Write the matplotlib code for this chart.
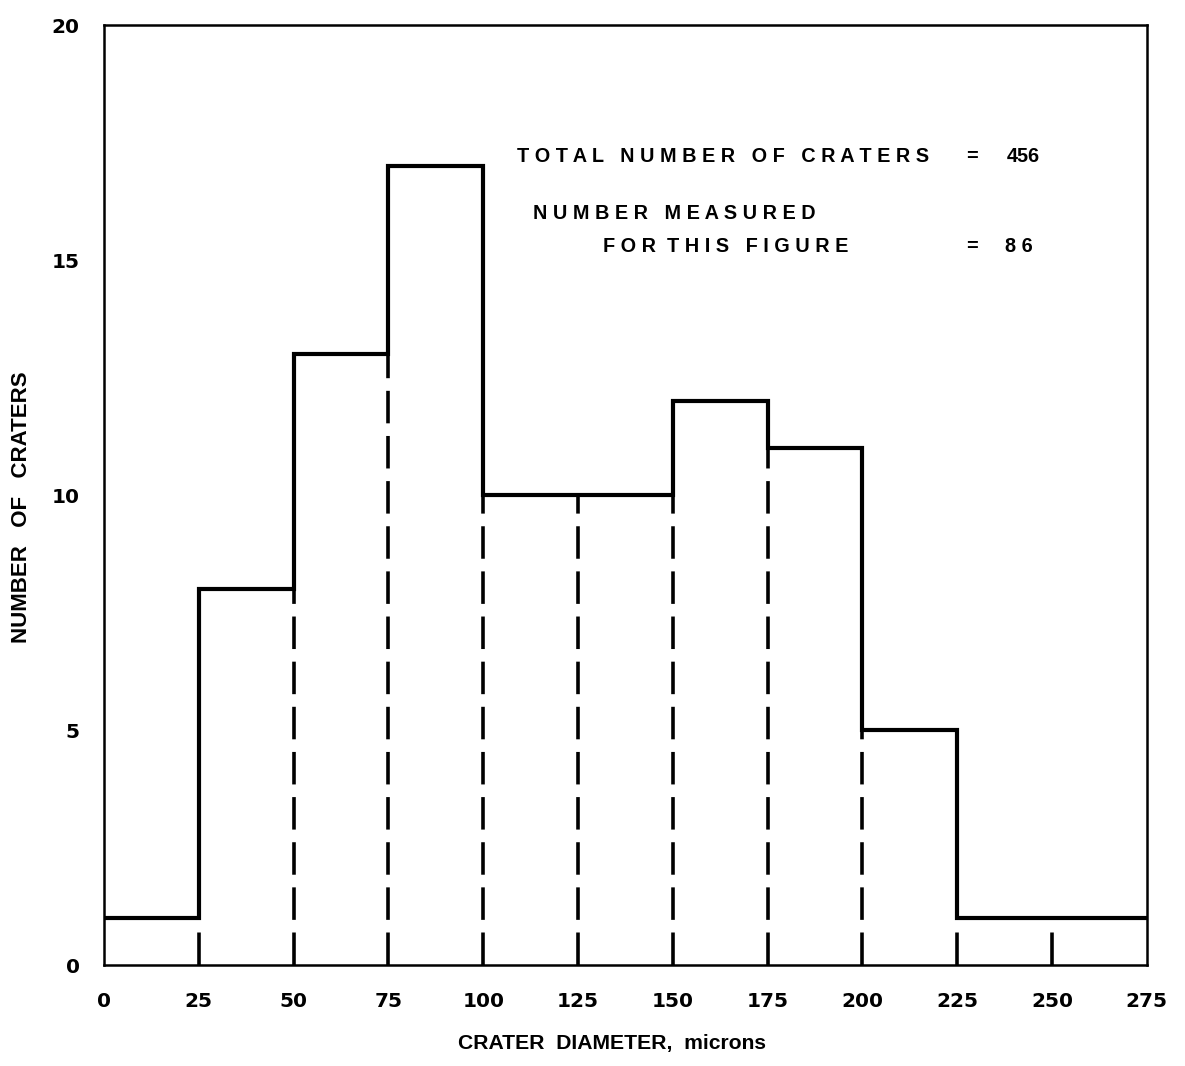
import matplotlib
matplotlib.use('Agg')
import matplotlib.pyplot as plt
import numpy as np

# bin edges (microns) and crater counts
edges = [0, 25, 50, 75, 100, 125, 150, 175, 200, 225, 250, 275]
counts = [1, 8, 13, 17, 10, 10, 12, 11, 5, 1, 1]
xticks = [0, 25, 50, 75, 100, 125, 150, 175, 200, 225, 250, 275]
yticks = [0, 5, 10, 15, 20]

plt.rcParams['font.family'] = ['Liberation Sans', 'DejaVu Sans']

fig = plt.figure(figsize=(11.85, 10.66), dpi=100)
ax = fig.add_axes([0.0878, 0.0947, 0.880, 0.8818])

# histogram outline
ax.stairs(counts, edges, color='black', lw=3.0, baseline=None)
# inner bin edges drawn dashed from zero up to the lower neighbour
inner = edges[1:-1]
dash_top = [min(counts[i], counts[i + 1]) for i in range(len(counts) - 1)]
ax.vlines(inner, 0, dash_top, colors='black', lw=2.6, linestyles=(0, (9, 3.5)))

ax.set_xlim(0, 275)
ax.set_ylim(0, 20)

# labels on major ticks, tick marks only at the inner (minor) positions
num_font = dict(family='DejaVu Sans', fontsize=14.5, fontweight='bold')
ax.set_xticks(xticks)
ax.set_yticks(yticks)
ax.set_xticklabels([str(v) for v in xticks], **num_font)
ax.set_yticklabels([str(v) for v in yticks], **num_font)
ax.set_xticks(xticks[1:-1], minor=True)
ax.set_yticks(yticks[1:-1], minor=True)
ax.tick_params(axis='x', which='major', bottom=False, top=False, labelbottom=True, pad=16)
ax.tick_params(axis='y', which='major', left=False, right=False, pad=14)
ax.tick_params(axis='x', which='minor', bottom=False, top=True, direction='in',
               length=19, width=2)
ax.tick_params(axis='y', which='minor', left=True, right=True, direction='in',
               length=17, width=2)
for s in ax.spines.values():
    s.set_linewidth(1.8)

ax.set_xlabel('CRATER  DIAMETER,  microns', fontsize=15.2, fontweight='bold', va='center')
ax.set_ylabel('NUMBER   OF   CRATERS', fontsize=16, fontweight='bold', va='center')
ax.xaxis.set_label_coords(0.487, -0.083)
ax.yaxis.set_label_coords(-0.079, 0.487)

# note in the upper right
fs = 14.3
ax.text(108.9, 17.2, 'T O T A L   N U M B E R   O F   C R A T E R S', fontsize=fs,
        va='center', ha='left', fontweight='bold')
ax.text(227.3, 17.2, '=', fontsize=fs, va='center', ha='left', fontweight='bold')
ax.text(238.1, 17.2, '456', fontsize=fs, va='center', ha='left', fontweight='bold')
ax.text(113.1, 16.0, 'N U M B E R   M E A S U R E D', fontsize=fs,
        va='center', ha='left', fontweight='bold')
ax.text(131.6, 15.28, 'F O R  T H I S   F I G U R E', fontsize=fs,
        va='center', ha='left', fontweight='bold')
ax.text(227.3, 15.28, '=', fontsize=fs, va='center', ha='left', fontweight='bold')
ax.text(237.6, 15.28, '8 6', fontsize=fs, va='center', ha='left', fontweight='bold')

fig.savefig('out.png', dpi=100)
